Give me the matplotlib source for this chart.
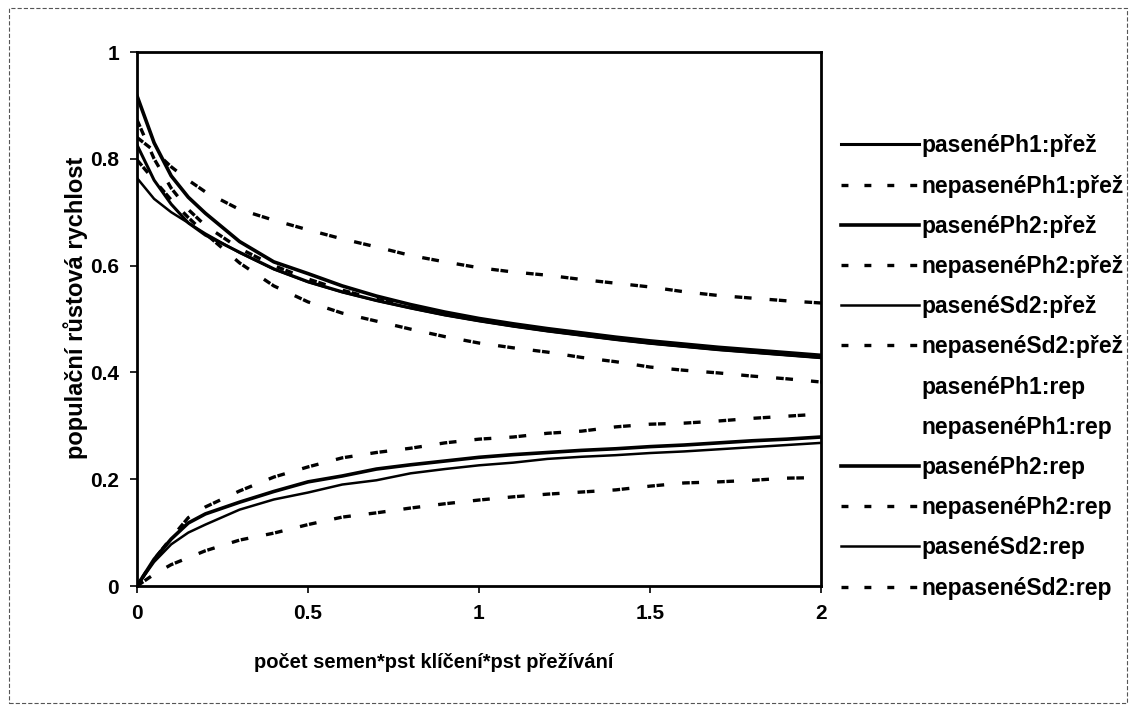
import matplotlib
matplotlib.use("Agg")
import matplotlib.pyplot as plt
from matplotlib.lines import Line2D
from matplotlib.patches import Rectangle

plt.rcParams["font.family"] = ["Liberation Sans", "DejaVu Sans"]
plt.rcParams["font.weight"] = "bold"
plt.rcParams["lines.scale_dashes"] = False

# počet semen * pst klíčení * pst přežívání
x = [0, 0.05, 0.1, 0.15, 0.2, 0.3, 0.4, 0.5, 0.6, 0.7, 0.8, 0.9, 1.0,
     1.1, 1.2, 1.3, 1.4, 1.5, 1.6, 1.7, 1.8, 1.9, 2.0]

# populační růstová rychlost - přežívání
pasenePh1_prez = [0.826, 0.76, 0.715, 0.68, 0.657, 0.625, 0.594, 0.57, 0.551, 0.535, 0.521, 0.508,
                  0.497, 0.487, 0.478, 0.47, 0.462, 0.455, 0.449, 0.443, 0.438, 0.433, 0.428]
nepasenePh1_prez = [0.84, 0.815, 0.785, 0.76, 0.738, 0.705, 0.685, 0.667, 0.65, 0.635, 0.619, 0.607,
                    0.596, 0.588, 0.582, 0.574, 0.567, 0.56, 0.551, 0.544, 0.539, 0.534, 0.53]
pasenePh2_prez = [0.918, 0.83, 0.768, 0.728, 0.698, 0.645, 0.607, 0.585, 0.562, 0.543, 0.527, 0.513,
                  0.501, 0.491, 0.482, 0.474, 0.466, 0.459, 0.453, 0.447, 0.442, 0.437, 0.432]
nepasenePh2_prez = [0.873, 0.80, 0.745, 0.705, 0.675, 0.632, 0.6, 0.575, 0.554, 0.537, 0.523, 0.51,
                    0.499, 0.489, 0.48, 0.472, 0.464, 0.457, 0.451, 0.445, 0.44, 0.435, 0.43]
paseneSd2_prez = [0.764, 0.725, 0.70, 0.68, 0.66, 0.624, 0.593, 0.569, 0.55, 0.534, 0.52, 0.507,
                  0.496, 0.486, 0.477, 0.469, 0.461, 0.454, 0.448, 0.442, 0.437, 0.432, 0.427]
nepaseneSd2_prez = [0.798, 0.76, 0.723, 0.69, 0.66, 0.605, 0.562, 0.532, 0.511, 0.496, 0.481, 0.467,
                    0.455, 0.446, 0.438, 0.428, 0.42, 0.41, 0.404, 0.399, 0.393, 0.388, 0.382]

# populační růstová rychlost - reprodukce
pasenePh2_rep = [0, 0.05, 0.088, 0.118, 0.135, 0.157, 0.177, 0.195, 0.206, 0.219, 0.227, 0.234,
                 0.241, 0.246, 0.25, 0.254, 0.257, 0.261, 0.264, 0.268, 0.272, 0.275, 0.279]
nepasenePh2_rep = [0, 0.05, 0.09, 0.128, 0.148, 0.178, 0.204, 0.223, 0.24, 0.25, 0.258, 0.268,
                   0.275, 0.279, 0.286, 0.29, 0.298, 0.303, 0.305, 0.309, 0.314, 0.318, 0.322]
paseneSd2_rep = [0, 0.045, 0.078, 0.1, 0.115, 0.143, 0.162, 0.175, 0.19, 0.198, 0.211, 0.219,
                 0.226, 0.231, 0.238, 0.242, 0.245, 0.249, 0.252, 0.256, 0.26, 0.264, 0.268]
nepaseneSd2_rep = [0, 0.022, 0.04, 0.053, 0.066, 0.086, 0.099, 0.115, 0.129, 0.137, 0.146, 0.154,
                   0.161, 0.167, 0.172, 0.176, 0.18, 0.187, 0.193, 0.195, 0.198, 0.202, 0.203]

SOLID_THICK = dict(color="black", lw=2.6, ls="-")
SOLID_MED = dict(color="black", lw=2.2, ls="-")
SOLID_THIN = dict(color="black", lw=1.8, ls="-")
DASHED = dict(color="black", lw=2.4, ls=(0, (5.5, 1.2, 5.5, 13)))
LEG_DASHED = dict(color="black", lw=2.4, ls=(0, (5, 11.5)))

series = [
    ("pasenéPh1:přež", pasenePh1_prez, SOLID_MED),
    ("nepasenéPh1:přež", nepasenePh1_prez, DASHED),
    ("pasenéPh2:přež", pasenePh2_prez, SOLID_THICK),
    ("nepasenéPh2:přež", nepasenePh2_prez, DASHED),
    ("pasenéSd2:přež", paseneSd2_prez, SOLID_THIN),
    ("nepasenéSd2:přež", nepaseneSd2_prez, DASHED),
    ("pasenéPh1:rep", None, None),
    ("nepasenéPh1:rep", None, None),
    ("pasenéPh2:rep", pasenePh2_rep, SOLID_THICK),
    ("nepasenéPh2:rep", nepasenePh2_rep, DASHED),
    ("pasenéSd2:rep", paseneSd2_rep, SOLID_THIN),
    ("nepasenéSd2:rep", nepaseneSd2_rep, DASHED),
]

fig = plt.figure(figsize=(11.35, 7.11), dpi=100)
ax = fig.add_axes([137 / 1135, 1 - 586 / 711, 684 / 1135, 534 / 711])

handles = []
for label, y, style in series:
    if y is None:
        handles.append(Line2D([], [], ls="none", label=label))
        continue
    ax.plot(x, y, solid_joinstyle="round", **style)
    leg_style = LEG_DASHED if style is DASHED else style
    handles.append(Line2D([], [], label=label, **leg_style))

ax.set_xlim(0, 2)
ax.set_ylim(0, 1)
ax.set_xticks([0, 0.5, 1, 1.5, 2])
ax.set_xticklabels(["0", "0.5", "1", "1.5", "2"])
ax.set_yticks([0, 0.2, 0.4, 0.6, 0.8, 1])
ax.set_yticklabels(["0", "0.2", "0.4", "0.6", "0.8", "1"])
ax.tick_params(direction="out", length=5, width=1.2, labelsize=15, pad=8)
for sp in ax.spines.values():
    sp.set_linewidth(2)

fig.text(434 / 1135, 1 - 662 / 711, "počet semen*pst klíčení*pst přežívání",
         ha="center", va="center", fontsize=14.5)
fig.text(76 / 1135, 1 - 308 / 711, "populační růstová rychlost",
         ha="center", va="center", rotation=90, fontsize=17)

fig.legend(handles=handles, loc="upper left",
           bbox_to_anchor=(830 / 1135, 1 - 123 / 711),
           frameon=False, fontsize=16.5, handlelength=3.4,
           handletextpad=0.1, labelspacing=0.75, borderpad=0)

fig.patches.append(Rectangle((9 / 1135, 8 / 711), 1118 / 1135, 695 / 711,
                             transform=fig.transFigure, fill=False,
                             lw=0.8, ls=(0, (3, 1.5)), edgecolor="#555555"))

fig.savefig("out.png", dpi=100)
